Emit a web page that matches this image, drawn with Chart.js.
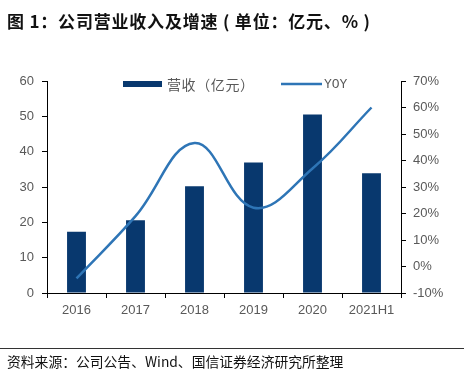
<!DOCTYPE html>
<html><head><meta charset="utf-8">
<script src="https://cdn.jsdelivr.net/npm/chart.js@4"></script>
<style>
html,body{margin:0;padding:0;background:#fff;}
#wrap{position:relative;width:464px;height:372px;overflow:hidden;background:#fff;}
#title{position:absolute;left:7px;top:11px;font-family:"Noto Sans CJK SC";font-weight:bold;font-size:17px;line-height:20px;letter-spacing:0.8px;color:#111;white-space:nowrap;}
#rule{position:absolute;left:0;top:348px;width:464px;height:1px;background:#333;}
#src{position:absolute;left:7px;top:352px;font-family:"Noto Sans CJK SC";font-size:13.8px;line-height:18px;color:#111;white-space:nowrap;}
#cv{position:absolute;left:0;top:0;}
</style></head>
<body>
<div id="wrap">
<canvas id="cv" width="464" height="372"></canvas>
<div id="title">图 1：公司营业收入及增速 ( 单位：亿元、% )</div>
<div id="rule"></div>
<div id="src">资料来源：公司公告、Wind、国信证券经济研究所整理</div>
</div>
<script>
const categories = ['2016', '2017', '2018', '2019', '2020', '2021H1'];
const revenue = [17.3, 20.6, 30.2, 36.9, 50.5, 33.9];
const yoy = [-4.5, 19.0, 46.6, 22.2, 37.0, 60.0];
const revenueLabel = '营收（亿元）';
const yoyLabel = 'YOY';
const leftMin = 0, leftMax = 60, leftStep = 10;
const rightMin = -10, rightMax = 70, rightStep = 10;

const barColor = '#08386E';
const lineColor = '#2E75B6';
const tickColor = '#595959';

const insideLegend = {
  id: 'insideLegend',
  afterDraw(chart) {
    const ctx = chart.ctx;
    const y = 84;
    ctx.save();
    ctx.textBaseline = 'middle';
    ctx.textAlign = 'left';
    ctx.fillStyle = barColor;
    ctx.fillRect(123, y - 3, 39, 6);
    ctx.fillStyle = tickColor;
    ctx.font = '14px "Noto Sans CJK SC"';
    ctx.letterSpacing = '0.6px';
    ctx.fillText(chart.data.datasets[0].label, 167, y + 1);
    ctx.strokeStyle = lineColor;
    ctx.lineWidth = 2.5;
    ctx.beginPath();
    ctx.moveTo(281, y);
    ctx.lineTo(322, y);
    ctx.stroke();
    ctx.letterSpacing = '0px';
    ctx.font = '13px "Liberation Mono"';
    ctx.fillText(chart.data.datasets[1].label, 324, y + 1);
    ctx.restore();
  }
};

new Chart(document.getElementById('cv'), {
  type: 'bar',
  data: {
    labels: categories,
    datasets: [
      {
        type: 'bar', label: revenueLabel, data: revenue, yAxisID: 'y',
        backgroundColor: barColor, borderWidth: 0,
        barPercentage: 0.32, categoryPercentage: 1, order: 1
      },
      {
        type: 'line', label: yoyLabel, data: yoy, yAxisID: 'y1',
        borderColor: lineColor, backgroundColor: lineColor, borderWidth: 2.5,
        pointRadius: 0, tension: 0.4, fill: false, order: 0, clip: false
      }
    ]
  },
  options: {
    responsive: false,
    animation: false,
    events: [],
    layout: { padding: { top: 81, bottom: 0, left: 0, right: 0 } },
    plugins: { legend: { display: false }, tooltip: { enabled: false }, title: { display: false } },
    scales: {
      x: {
        offset: true,
        grid: { display: true, drawOnChartArea: false, drawTicks: true, tickLength: 5, color: '#000', offset: true },
        border: { display: true, color: '#000', width: 1 },
        ticks: { color: tickColor, font: { family: 'Liberation Sans', size: 13 }, padding: 5, maxRotation: 0 },
        afterFit(s) { s.height = 79; }
      },
      y: {
        position: 'left', min: leftMin, max: leftMax,
        grid: { display: true, drawOnChartArea: false, drawTicks: true, tickLength: 5, color: '#000' },
        border: { display: true, color: '#000', width: 1 },
        ticks: { stepSize: leftStep, color: tickColor, font: { family: 'Liberation Sans', size: 13 }, padding: 8 },
        afterFit(s) { s.width = 47; }
      },
      y1: {
        position: 'right', min: rightMin, max: rightMax,
        grid: { display: true, drawOnChartArea: false, drawTicks: true, tickLength: 5, color: '#000' },
        border: { display: true, color: '#000', width: 1 },
        ticks: { stepSize: rightStep, color: tickColor, font: { family: 'Liberation Sans', size: 13 }, padding: 7,
          callback: v => v + '%' },
        afterFit(s) { s.width = 63; }
      }
    }
  },
  plugins: [insideLegend]
});
</script>
</body></html>
